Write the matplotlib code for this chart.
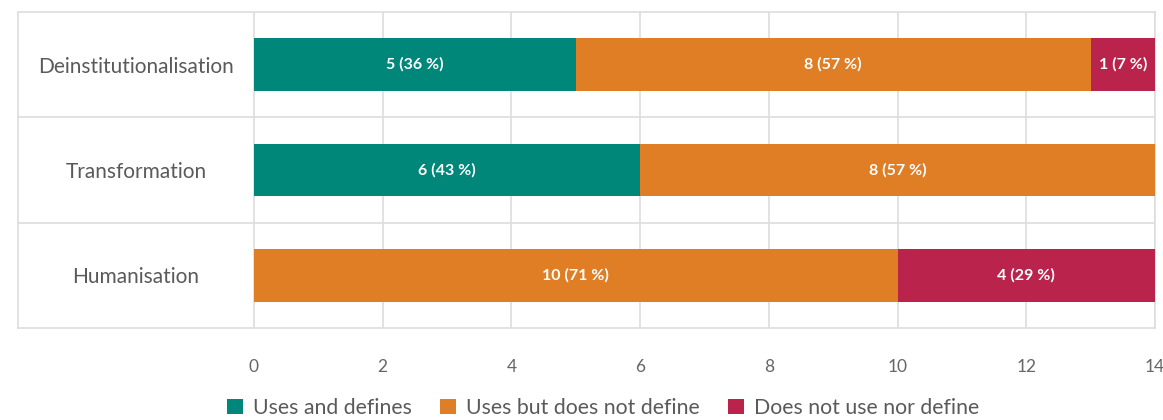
import matplotlib.pyplot as plt
import numpy as np

plt.rcParams['font.family'] = ['Lato', 'DejaVu Sans']

categories = ["Deinstitutionalisation", "Transformation", "Humanisation"]
series = ["Uses and defines", "Uses but does not define", "Does not use nor define"]
uses_defines = [5, 6, 0]
uses_not_define = [8, 8, 10]
not_use = [1, 0, 4]
colors = ["#00877A", "#E07E26", "#B9234C"]

values = np.array([uses_defines, uses_not_define, not_use], dtype=float)
totals = values.sum(axis=0)

fig = plt.figure(figsize=(11.63, 4.2), dpi=100)
W, H = 1163, 420
x0, x1, y0, y1 = 18, 1155, 12, 328
ax = fig.add_axes([x0 / W, 1 - y1 / H, (x1 - x0) / W, (y1 - y0) / H])

px_per_unit = (1155 - 254) / 14
xmin = -(254 - x0) / px_per_unit
ax.set_xlim(xmin, 14)
ax.set_ylim(2.5, -0.5)

ypos = np.arange(len(categories))
left = np.zeros(len(categories))
for i, name in enumerate(series):
    vals = values[i]
    ax.barh(ypos, vals, left=left, height=0.5, color=colors[i], label=name, zorder=3)
    for j, v in enumerate(vals):
        if v > 0:
            pct = round(v / totals[j] * 100)
            ax.text(left[j] + v / 2, ypos[j], f"{int(v)} ({pct} %)", ha="center", va="center",
                    color="white", fontsize=11.5, fontweight="bold", zorder=4)
    left += vals

# category labels in the left column
for j, c in enumerate(categories):
    ax.text(xmin / 2, ypos[j], c, ha="center", va="center_baseline", fontsize=15, color="#5a5a5a")

ticks = np.arange(0, 15, 2)
ax.set_xticks(ticks)
ax.set_yticks([])
ax.tick_params(axis="x", length=0, pad=22, labelsize=12.5, labelcolor="#666666")
for t in ticks:
    ax.axvline(t, color="#dddddd", lw=1.2, zorder=1)
for b in [0.5, 1.5]:
    ax.axhline(b, color="#dddddd", lw=1.2, zorder=1)
for s in ax.spines.values():
    s.set_color("#dddddd")
    s.set_linewidth(1.2)

fig.legend(loc="center", bbox_to_anchor=(603 / W, 1 - 408 / H), ncol=3, frameon=False,
           handlelength=0.75, handleheight=0.75, handletextpad=0.5, columnspacing=1.3,
           fontsize=15.3, labelcolor="#5a5a5a")

fig.savefig("out.png", dpi=100)
